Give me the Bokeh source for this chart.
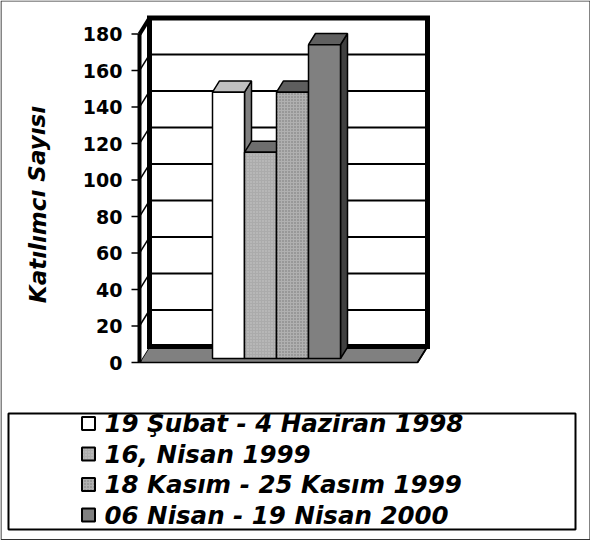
from bokeh.plotting import figure
from bokeh.models import Range1d
from bokeh.embed import file_html
from bokeh.resources import INLINE
from bokeh.core.properties import value

# ---- data ----
categories = ["19 Şubat - 4 Haziran 1998", "16, Nisan 1999",
              "18 Kasım - 25 Kasım 1999", "06 Nisan - 19 Nisan 2000"]
counts = [146, 113, 146, 172]
ticks = [0, 20, 40, 60, 80, 100, 120, 140, 160, 180]
tick_labels = [str(t) for t in ticks]
axis_title = "Katılımcı Sayısı"

front_colors = ["#ffffff", "#ababab", "#989898", "#808080"]
top_colors = ["#c0c0c0", "#6e6e6e", "#5e5e5e", "#606060"]
side_colors = ["#808080", "#555555", "#4a4a4a", "#404040"]
hatches = [" ", "dot", "+", " "]

# ---- geometry (page pixels -> data) ----
K = 1.8244          # px per unit
Y0 = 370.0          # page y of value 0 on front plane
W, H = 590, 540
DX, DY = 10.0, 16.0
DYV = DY / K
AX = 147.0          # front axis x
FR = 425.0          # front right of floor
VMAX = 180
BAR_X0 = 217.5
BAR_W = 32.0
ZF, ZB = 0.25, 0.95


def vy(page_y):
    return (Y0 - page_y) / K


def P(px, v, z):
    return px + z * DX, v + z * DYV


p = figure(width=W, height=H, x_range=Range1d(8, 8 + W),
           y_range=Range1d(vy(8 + H), vy(8)), min_border=0,
           x_axis_type=None, y_axis_type=None, toolbar_location=None,
           output_backend="svg", outline_line_color=None,
           background_fill_color="white", border_fill_color="white")


def poly(pts, **kw):
    xs = [a for a, b in pts]
    ys = [b for a, b in pts]
    p.patch(xs, ys, **kw)


def seg(a, b, **kw):
    p.line([a[0], b[0]], [a[1], b[1]], **kw)


# outer border
poly([(8.5, vy(8.5)), (597.5, vy(8.5)), (597.5, vy(547)), (8.5, vy(547))],
     fill_color=None, line_color="#333333", line_width=1.2)

# floor
poly([P(AX, 0, 0), P(FR, 0, 0), P(FR, 0, 1), P(AX, 0, 1)],
     fill_color="#808080", line_color="black", line_width=1.5)
# side wall
poly([P(AX, 0, 0), P(AX, 0, 1), P(AX, VMAX, 1), P(AX, VMAX, 0)],
     fill_color="white", line_color=None)
# back wall
poly([P(AX, 0, 1), P(FR, 0, 1), P(FR, VMAX, 1), P(AX, VMAX, 1)],
     fill_color="white", line_color=None)

# gridlines
for t in ticks[1:-1]:
    seg(P(AX, t, 1), P(FR, t, 1), line_color="black", line_width=2)
    seg(P(AX, t, 0), P(AX, t, 1), line_color="black", line_width=1.5)

# back wall thick border
poly([P(AX, 0, 1), P(FR, 0, 1), P(FR, VMAX, 1), P(AX, VMAX, 1)],
     fill_color=None, line_color="black", line_width=5, line_join="miter")
# top diagonal and front axis
seg(P(AX, VMAX, 0), P(AX, VMAX, 1), line_color="black", line_width=4)
seg(P(AX, 0, 0), P(AX, VMAX, 0), line_color="black", line_width=4)
# floor right diagonal
seg(P(FR, 0, 0), P(FR, 0, 1), line_color="black", line_width=1.5)

# ticks and labels
for t, lab in zip(ticks, tick_labels):
    seg((AX - 8, t), (AX, t), line_color="black", line_width=1.5)
p.text(x=[130] * len(ticks), y=ticks, text=tick_labels,
       text_align="right", text_baseline="middle",
       text_font=value("DejaVu Sans"), text_font_style="bold",
       text_font_size="19px", text_color="black")

# axis title
p.text(x=[45], y=[vy(212)], text=[axis_title], angle=1.5708,
       text_align="center", text_baseline="middle",
       text_font=value("DejaVu Sans"), text_font_style="bold italic",
       text_font_size="23px", text_color="black")

# bars
for i, h in enumerate(counts):
    x0 = BAR_X0 + i * BAR_W
    x1 = x0 + BAR_W
    poly([P(x1, 0, ZF), P(x1, 0, ZB), P(x1, h, ZB), P(x1, h, ZF)],
         fill_color=side_colors[i], line_color="black", line_width=1.5)
    poly([P(x0, h, ZF), P(x1, h, ZF), P(x1, h, ZB), P(x0, h, ZB)],
         fill_color=top_colors[i], line_color="black", line_width=1.5)
    poly([P(x0, 0, ZF), P(x1, 0, ZF), P(x1, h, ZF), P(x0, h, ZF)],
         fill_color=front_colors[i], line_color="black", line_width=1.5,
         hatch_pattern=hatches[i], hatch_color="#c8c8c8" if i == 1 else "#b0b0b0",
         hatch_scale=3, hatch_weight=1)

# legend
poly([(16, vy(421)), (583, vy(421)), (583, vy(537)), (16, vy(537))],
     fill_color="white", line_color="black", line_width=2)
leg_y = [431, 461.5, 492, 522.5]
for i, (lab, yy) in enumerate(zip(categories, leg_y)):
    s = 6.5
    poly([(96 - s, vy(yy - s)), (96 + s, vy(yy - s)), (96 + s, vy(yy + s)), (96 - s, vy(yy + s))],
         fill_color=front_colors[i], line_color="black", line_width=2,
         hatch_pattern=hatches[i], hatch_color="#c8c8c8" if i == 1 else "#b0b0b0",
         hatch_scale=3, hatch_weight=1)
p.text(x=[112] * 4, y=[vy(v) for v in leg_y], text=categories,
       text_align="left", text_baseline="middle",
       text_font=value("DejaVu Sans"), text_font_style="bold italic",
       text_font_size="24.5px", text_color="black")

open("out.html", "w").write(file_html(p, INLINE))
